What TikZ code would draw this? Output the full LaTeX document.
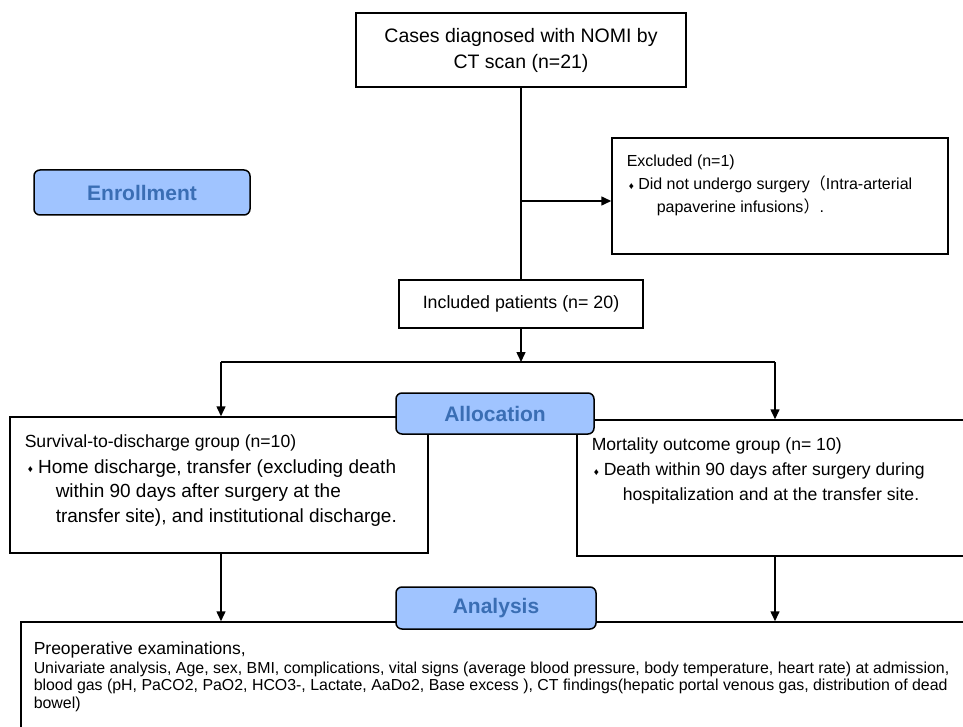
\documentclass[tikz,border=0pt]{standalone}
\usepackage{fontspec}
\setmainfont{Liberation Sans}
\newfontfamily\cjk{Noto Sans CJK SC}
\usetikzlibrary{arrows.meta,positioning,calc}
\definecolor{phasefill}{RGB}{160,196,255}
\definecolor{phasetext}{RGB}{58,110,180}
\newcommand{\bul}{\raisebox{0.5pt}{\fontsize{10}{10}\selectfont ♦}}

\begin{document}
\begin{tikzpicture}[x=1pt,y=-1pt,line width=1.5pt,>={Triangle[length=10pt,width=9pt]}]
\tikzstyle{box}=[draw,rectangle,inner sep=0pt]
\tikzstyle{phase}=[draw,fill=phasefill,rounded corners=6pt,inner sep=0pt,text=phasetext,font=\fontsize{21}{25}\selectfont\bfseries]
\tikzstyle{txt}=[anchor=base west,inner sep=0pt,align=left]
\clip (0,0) rectangle (963,727);

% enrollment
\node [box,minimum width=330pt,minimum height=74pt,align=center,font=\fontsize{19.5}{26}\selectfont] (cases) at (521,50) {Cases diagnosed with NOMI by\\CT scan (n=21)};
\node [phase,minimum width=216pt,minimum height=45pt] (enrol) at (142,192.5) {Enrollment};
\node [box,minimum width=336pt,minimum height=116pt] (excl) at (780,196) {};
\node [txt,font=\fontsize{16}{22}\selectfont] (exclh) at (626,167) {Excluded (n=1)};
\node [txt,font=\fontsize{16}{23}\selectfont] (exclb) at (628,213) {\bul\ Did not undergo surgery{\cjk （}Intra-arterial\\
  \hspace*{28pt}papaverine infusions{\cjk ）}.};
\node [box,minimum width=244pt,minimum height=48pt,font=\fontsize{17.8}{22}\selectfont] (incl) at (521,304) {Included patients (n= 20)};

% allocation
\node [box,minimum width=418pt,minimum height=136pt] (surv) at (219,485) {};
\node [txt,font=\fontsize{17.6}{22}\selectfont] (survh) at (24,447) {Survival-to-discharge group (n=10)};
\node [txt,font=\fontsize{19}{24.5}\selectfont] (survb) at (27,522) {\bul\ Home discharge, transfer (excluding death\\
  \hspace*{28pt}within 90 days after surgery at the\\
  \hspace*{28pt}transfer site), and institutional discharge.};
\node [box,minimum width=420pt,minimum height=136pt] (mort) at (787,488) {};
\node [txt,font=\fontsize{17.6}{22}\selectfont] (morth) at (591,450) {Mortality outcome group (n= 10)};
\node [txt,font=\fontsize{17.6}{24.5}\selectfont] (mortb) at (593,500) {\bul\ Death within 90 days after surgery during\\
  \hspace*{29pt}hospitalization and at the transfer site.};
\node [phase,minimum width=198pt,minimum height=41pt] (alloc) at (495,413.5) {Allocation};

% analysis
\node [box,minimum width=1000pt,minimum height=200pt] (exam) at (521,722) {};
\node [txt,font=\fontsize{17.5}{22}\selectfont] (examh) at (33,654) {Preoperative examinations,};
\node [txt,font=\fontsize{15.9}{17.75}\selectfont] (examb) at (33,708.5) {Univariate analysis, Age, sex, BMI, complications, vital signs (average blood pressure, body temperature, heart rate) at admission,\\
  blood gas (pH, PaCO2, PaO2, HCO3-, Lactate, AaDo2, Base excess ), CT findings(hepatic portal venous gas, distribution of dead\\
  bowel)};
\node [phase,minimum width=200pt,minimum height=42pt] (anal) at (496,608) {Analysis};

% connectors
\coordinate (exclfork) at (521,201);
\coordinate (split) at (521,362);
\coordinate (splitl) at (221,362);
\coordinate (splitr) at (775,362);
\draw (cases) -- (incl);
\draw [->] (exclfork) -- (exclfork -| excl.west);
\draw [->] (incl) -- (split);
\draw (splitl) -- (splitr);
\draw [->] (splitl) -- (splitl |- surv.north);
\draw [->] (splitr) -- (splitr |- mort.north);
\draw [->] (surv.south -| splitl) -- (splitl |- exam.north);
\draw [->] (mort.south -| splitr) -- (splitr |- exam.north);
\end{tikzpicture}
\end{document}
